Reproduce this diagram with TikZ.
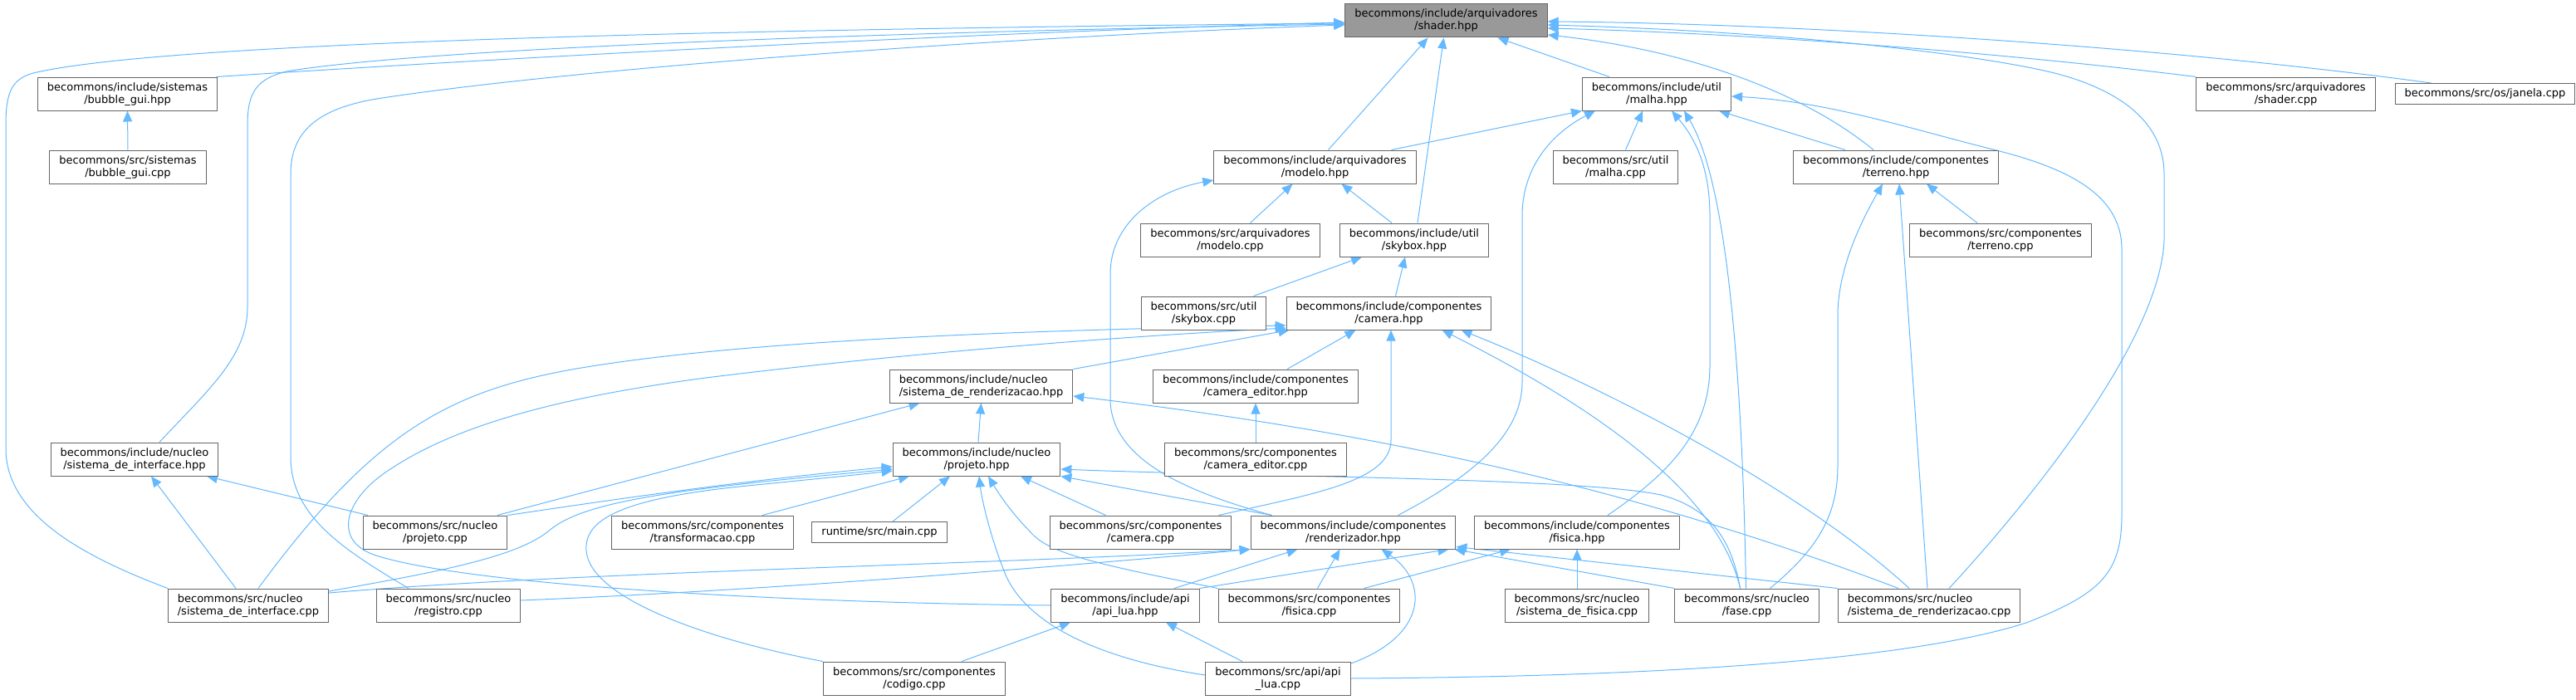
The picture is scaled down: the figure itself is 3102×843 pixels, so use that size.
\documentclass[tikz,border=0pt]{standalone}
\usepackage{fontspec}
\setmainfont{DejaVu Sans}
\usetikzlibrary{arrows.meta}
\definecolor{edgeblue}{HTML}{63B8FF}
\definecolor{bordergray}{HTML}{666666}
\definecolor{rootgray}{HTML}{999999}
\newsavebox\dxa
\newsavebox\dxb
\newlength\dxw
\newcommand\dxs{\rule[-4pt]{0pt}{15pt}}
\newcommand\dxtwo[2]{%
  \sbox\dxa{#1}\sbox\dxb{#2}%
  \ifdim\wd\dxa>\wd\dxb \setlength\dxw{\wd\dxa}\else\setlength\dxw{\wd\dxb}\fi
  \vbox{\hbox to\dxw{\dxs#1\hfil}\hbox to\dxw{\hfil\dxs#2\hfil}}}
\newcommand\dxone[1]{\dxs#1}
\pgfdeclarelayer{edges}
\pgfsetlayers{edges,main}
\tikzset{
  box/.style={draw=bordergray, line width=1pt, fill=white, inner xsep=11.5pt, inner ysep=5pt,
    font=\fontsize{13}{15}\selectfont, text=black},
  dxe/.style={draw=edgeblue, line width=1pt, -{Triangle[length=13pt,width=11pt]}}
}
\begin{document}
\begin{tikzpicture}[x=1pt,y=-1pt]
\useasboundingbox (0,0) rectangle (3102,843);
\node[box, fill=rootgray] (shader) at (1741.5,25) {\dxtwo{becommons/include/arquivadores}{/shader.hpp}};
\node[box] (bubhpp) at (153.5,113) {\dxtwo{becommons/include/sistemas}{/bubble\_gui.hpp}};
\node[box] (bubcpp) at (154,201) {\dxtwo{becommons/src/sistemas}{/bubble\_gui.cpp}};
\node[box] (malhahpp) at (1995,113) {\dxtwo{becommons/include/util}{/malha.hpp}};
\node[box] (shadercpp) at (2752.5,113) {\dxtwo{becommons/src/arquivadores}{/shader.cpp}};
\node[box] (janela) at (2992.5,113) {\dxone{becommons/src/os/janela.cpp}};
\node[box] (modelohpp) at (1583.5,201) {\dxtwo{becommons/include/arquivadores}{/modelo.hpp}};
\node[box] (malhacpp) at (1945.5,201) {\dxtwo{becommons/src/util}{/malha.cpp}};
\node[box] (terrenohpp) at (2283,201) {\dxtwo{becommons/include/componentes}{/terreno.hpp}};
\node[box] (modelocpp) at (1481.5,289) {\dxtwo{becommons/src/arquivadores}{/modelo.cpp}};
\node[box] (skyboxhpp) at (1703,289) {\dxtwo{becommons/include/util}{/skybox.hpp}};
\node[box] (terrenocpp) at (2409,289) {\dxtwo{becommons/src/componentes}{/terreno.cpp}};
\node[box] (skyboxcpp) at (1449.5,377) {\dxtwo{becommons/src/util}{/skybox.cpp}};
\node[box] (camerahpp) at (1672.5,377) {\dxtwo{becommons/include/componentes}{/camera.hpp}};
\node[box] (sisrendhpp) at (1181.5,465) {\dxtwo{becommons/include/nucleo}{/sistema\_de\_renderizacao.hpp}};
\node[box] (camedhpp) at (1512,465) {\dxtwo{becommons/include/componentes}{/camera\_editor.hpp}};
\node[box] (sisinthpp) at (162,553) {\dxtwo{becommons/include/nucleo}{/sistema\_de\_interface.hpp}};
\node[box] (projetohpp) at (1176,553) {\dxtwo{becommons/include/nucleo}{/projeto.hpp}};
\node[box] (camedcpp) at (1512,553) {\dxtwo{becommons/src/componentes}{/camera\_editor.cpp}};
\node[box] (projetocpp) at (524,641) {\dxtwo{becommons/src/nucleo}{/projeto.cpp}};
\node[box] (transfcpp) at (846,641) {\dxtwo{becommons/src/componentes}{/transformacao.cpp}};
\node[box] (maincpp) at (1059,641) {\dxone{runtime/src/main.cpp}};
\node[box] (cameracpp) at (1373.5,641) {\dxtwo{becommons/src/componentes}{/camera.cpp}};
\node[box] (renderhpp) at (1629.5,641) {\dxtwo{becommons/include/componentes}{/renderizador.hpp}};
\node[box] (fisicahpp) at (1899,641) {\dxtwo{becommons/include/componentes}{/fisica.hpp}};
\node[box] (sisintcpp) at (299,729) {\dxtwo{becommons/src/nucleo}{/sistema\_de\_interface.cpp}};
\node[box] (registrocpp) at (540,729) {\dxtwo{becommons/src/nucleo}{/registro.cpp}};
\node[box] (apiluahpp) at (1355,729) {\dxtwo{becommons/include/api}{/api\_lua.hpp}};
\node[box] (fisicacpp) at (1576.5,729) {\dxtwo{becommons/src/componentes}{/fisica.cpp}};
\node[box] (sisfiscpp) at (1899,729) {\dxtwo{becommons/src/nucleo}{/sistema\_de\_fisica.cpp}};
\node[box] (fasecpp) at (2103.5,729) {\dxtwo{becommons/src/nucleo}{/fase.cpp}};
\node[box] (sisrendcpp) at (2323,729) {\dxtwo{becommons/src/nucleo}{/sistema\_de\_renderizacao.cpp}};
\node[box] (codigocpp) at (1101,817) {\dxtwo{becommons/src/componentes}{/codigo.cpp}};
\node[box] (apiluacpp) at (1539,817) {\dxtwo{becommons/src/api/api}{\_lua.cpp}};

\begin{pgfonlayer}{edges}
% into shader.hpp
\draw[dxe] ([xshift=107pt]bubhpp.north) .. controls (600,70) and (1200,38) .. ([yshift=-2pt]shader.west);
\draw[dxe] (sisintcpp.north west) .. controls (100,670) and (7,620) .. (7,540) -- (7,150) .. controls (7,110) and (15,95) .. (40,88) .. controls (200,50) and (900,35) .. ([yshift=-3pt]shader.west);
\draw[dxe] ([xshift=30pt]sisinthpp.north) .. controls (250,470) and (298,430) .. (298,370) -- (298,150) .. controls (298,110) and (310,95) .. (345,86) .. controls (500,60) and (1000,40) .. ([yshift=-4pt]shader.west);
\draw[dxe] ([xshift=-48pt]registrocpp.north) .. controls (410,660) and (350,620) .. (350,550) -- (350,210) .. controls (350,160) and (380,130) .. (460,118) .. controls (700,82) and (1200,45) .. ([yshift=-5pt]shader.west);
\draw[dxe] ([xshift=-57pt]malhahpp.north) -- ([xshift=62pt]shader.south);
\draw[dxe] ([xshift=16pt]modelohpp.north) -- ([xshift=-22pt]shader.south);
\draw[dxe] ([xshift=4pt]skyboxhpp.north) -- ([xshift=-3pt]shader.south);
\draw[dxe] ([xshift=-27pt]terrenohpp.north) .. controls (2170,110) and (2030,60) .. ([yshift=-17pt]shader.east);
\draw[dxe] (shadercpp.north west) .. controls (2400,62) and (2100,40) .. ([yshift=-9pt]shader.east);
\draw[dxe] ([xshift=-65pt]janela.north) .. controls (2600,55) and (2150,28) .. ([yshift=-1pt]shader.east);
\draw[dxe] ([xshift=24pt]sisrendcpp.north) .. controls (2420,630) and (2600,420) .. (2606,290) -- (2606,210) .. controls (2606,140) and (2540,105) .. (2474,88) .. controls (2380,65) and (2150,38) .. ([yshift=-5pt]shader.east);
% bubble
\draw[dxe] (bubcpp.north) -- (bubhpp.south);
% malha.hpp
\draw[dxe] ([xshift=92pt]modelohpp.north) -- (malhahpp.south west);
\draw[dxe] ([xshift=12pt]malhacpp.north) -- ([xshift=-17pt]malhahpp.south);
\draw[dxe] ([xshift=-61pt]terrenohpp.north) -- ([xshift=75pt]malhahpp.south);
\draw[dxe] ([xshift=54pt]renderhpp.north) .. controls (1780,570) and (1833,520) .. (1833,460) -- (1833,260) .. controls (1833,200) and (1870,160) .. ([xshift=-74pt]malhahpp.south);
\draw[dxe] ([xshift=37pt]fisicahpp.north) .. controls (2010,570) and (2059,520) .. (2059,440) -- (2059,260) .. controls (2059,200) and (2040,165) .. ([xshift=18pt]malhahpp.south);
\draw[dxe] ([xshift=-1pt]fasecpp.north) .. controls (2098,450) and (2080,220) .. ([xshift=33pt]malhahpp.south);
\draw[dxe] (apiluacpp.east) .. controls (2000,815) and (2300,795) .. (2440,750) .. controls (2530,715) and (2555,690) .. (2555,620) -- (2555,300) .. controls (2555,230) and (2480,200) .. (2400,180) .. controls (2300,155) and (2200,122) .. ([yshift=-3pt]malhahpp.east);
% modelo.hpp
\draw[dxe] ([xshift=-27pt]skyboxhpp.north) -- ([xshift=32pt]modelohpp.south);
\draw[dxe] ([xshift=24pt]modelocpp.north) -- ([xshift=-27pt]modelohpp.south);
\draw[dxe] ([xshift=-98pt]renderhpp.north) .. controls (1420,590) and (1337,550) .. (1337,480) -- (1337,330) .. controls (1337,270) and (1390,230) .. ([yshift=-16pt]modelohpp.west);
% terreno.hpp
\draw[dxe] ([xshift=-28pt]terrenocpp.north) -- ([xshift=37pt]terrenohpp.south);
\draw[dxe] ([xshift=28pt]fasecpp.north) .. controls (2190,660) and (2213,620) .. (2213,560) -- (2213,380) .. controls (2213,320) and (2245,260) .. ([xshift=-16pt]terrenohpp.south);
\draw[dxe] ([xshift=-2pt]sisrendcpp.north) -- ([xshift=4pt]terrenohpp.south);
% skybox.hpp
\draw[dxe] ([xshift=60pt]skyboxcpp.north) -- ([xshift=-63pt]skyboxhpp.south);
\draw[dxe] ([xshift=8pt]camerahpp.north) -- ([xshift=-11pt]skyboxhpp.south);
% camera.hpp
\draw[dxe] ([xshift=38pt]camedhpp.north) -- ([xshift=-40pt]camerahpp.south);
\draw[dxe] ([xshift=94pt]cameracpp.north) .. controls (1580,595) and (1675,580) .. (1675,530) -- ([xshift=2.5pt]camerahpp.south);
\draw[dxe] (sisrendhpp.north east) -- ([xshift=4pt]camerahpp.south west);
\draw[dxe] ([xshift=12pt]sisintcpp.north) .. controls (450,520) and (540,470) .. (700,443) .. controls (850,418) and (1100,400) .. ([yshift=-15pt]camerahpp.west);
\draw[dxe] (apiluahpp.west) .. controls (950,726) and (560,705) .. (450,668) .. controls (400,650) and (415,600) .. (470,565) .. controls (560,505) and (700,475) .. (850,455) .. controls (1050,430) and (1300,408) .. ([yshift=-18pt]camerahpp.west);
\draw[dxe] ([xshift=-24pt]sisrendcpp.north) .. controls (2170,590) and (1940,470) .. ([xshift=87pt]camerahpp.south);
\draw[dxe] ([xshift=-8pt]fasecpp.north) .. controls (2075,620) and (1980,520) .. ([xshift=64pt]camerahpp.south);
% camera_editor
\draw[dxe] (camedcpp.north) -- (camedhpp.south);
% sistema_de_renderizacao.hpp
\draw[dxe] ([xshift=2pt]projetohpp.north) -- (sisrendhpp.south);
\draw[dxe] ([xshift=75pt]projetocpp.north) -- ([xshift=-74pt]sisrendhpp.south);
\draw[dxe] ([xshift=-37pt]sisrendcpp.north) .. controls (2000,600) and (1700,525) .. ([yshift=-12pt]sisrendhpp.east);
% sistema_de_interface.hpp
\draw[dxe] ([xshift=-15pt]sisintcpp.north) -- ([xshift=20pt]sisinthpp.south);
\draw[dxe] ([xshift=-81pt]projetocpp.north) -- ([xshift=87pt]sisinthpp.south);
% projeto.hpp
\draw[dxe] (projetocpp.north east) .. controls (750,600) and (900,578) .. ([yshift=-9pt]projetohpp.west);
\draw[dxe] ([yshift=17pt]sisintcpp.east) .. controls (520,690) and (620,672) .. (660,640) .. controls (700,605) and (800,590) .. ([yshift=-12pt]projetohpp.west);
\draw[dxe] (codigocpp.north west) .. controls (850,770) and (710,720) .. (706,663) .. controls (703,625) and (750,600) .. (900,585) .. controls (980,577) and (1030,572) .. ([yshift=-14pt]projetohpp.west);
\draw[dxe] ([xshift=72pt]transfcpp.north) -- ([xshift=-81pt]projetohpp.south);
\draw[dxe] ([xshift=16pt]maincpp.north) -- ([xshift=-32pt]projetohpp.south);
\draw[dxe] ([yshift=4pt]apiluacpp.west) .. controls (1300,790) and (1230,740) .. (1210,690) .. controls (1192,645) and (1182,600) .. ([xshift=3pt]projetohpp.south);
\draw[dxe] (fisicacpp.north west) .. controls (1350,685) and (1270,670) .. (1245,645) .. controls (1215,615) and (1200,590) .. ([xshift=14pt]projetohpp.south);
\draw[dxe] ([xshift=-42pt]cameracpp.north) -- ([xshift=53pt]projetohpp.south);
\draw[dxe] ([xshift=-8pt]fasecpp.north) .. controls (2085,650) and (2060,612) .. (2000,596) .. controls (1900,575) and (1500,574) .. ([yshift=-12pt]projetohpp.east);
\draw[dxe] ([xshift=-98pt]renderhpp.north) -- (projetohpp.south east);
% renderizador.hpp
\draw[dxe] ([yshift=15pt]sisintcpp.east) .. controls (700,688) and (1200,680) .. (renderhpp.south west);
\draw[dxe] ([yshift=6pt]registrocpp.east) .. controls (900,712) and (1250,685) .. (renderhpp.south west);
\draw[dxe] ([xshift=59pt]apiluahpp.north) -- ([xshift=-67pt]renderhpp.south);
\draw[dxe] (apiluahpp.north east) -- ([xshift=115pt]renderhpp.south);
\draw[dxe] ([xshift=10pt]fisicacpp.north) -- ([xshift=-16pt]renderhpp.south);
\draw[dxe] ([yshift=18pt]apiluacpp.east) .. controls (1720,765) and (1720,700) .. ([xshift=34pt]renderhpp.south);
\draw[dxe] (fasecpp.north west) -- ([xshift=-2pt]renderhpp.south east);
\draw[dxe] (sisrendcpp.north west) -- ([yshift=3pt]renderhpp.south east);
% api_lua.hpp
\draw[dxe] ([xshift=-43pt]apiluacpp.north) -- ([xshift=49pt]apiluahpp.south);
\draw[dxe] ([xshift=57pt]codigocpp.north) -- ([xshift=-66pt]apiluahpp.south);
% fisica.hpp
\draw[dxe] ([xshift=66pt]fisicacpp.north) -- ([xshift=-80pt]fisicahpp.south);
\draw[dxe] (sisfiscpp.north) -- (fisicahpp.south);
\end{pgfonlayer}
\end{tikzpicture}
\end{document}
